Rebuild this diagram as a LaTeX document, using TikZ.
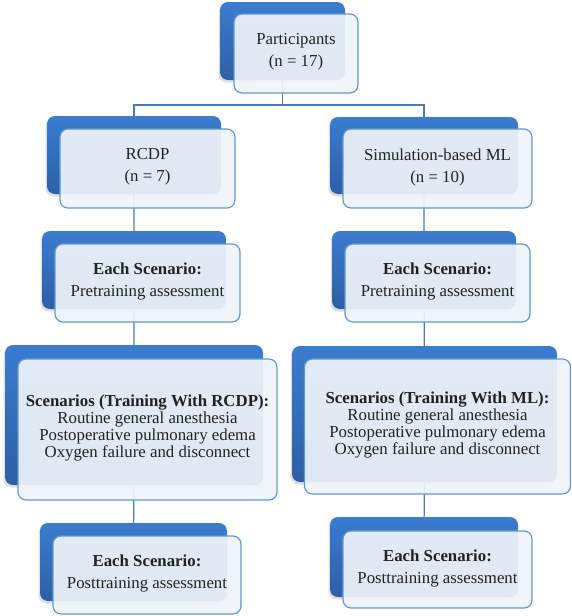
\documentclass[tikz,border=0pt]{standalone}
\usepackage{fontspec}
\setmainfont{Liberation Serif}
\usepackage{tikz}
\usetikzlibrary{shadows}
\usetikzlibrary{backgrounds}
\usetikzlibrary{calc}

\definecolor{boxtop}{HTML}{3B7CCF}
\definecolor{boxbot}{HTML}{2C5FA6}
\definecolor{boxline}{HTML}{5B9BD5}
\definecolor{boxfill}{HTML}{F0F4FA}
\definecolor{linkcol}{HTML}{4A7BBE}
\definecolor{txt}{HTML}{222222}

\begin{document}
\begin{tikzpicture}[x=1pt, y=-1pt,
    back/.style 2 args={rectangle, rounded corners=8pt, top color=boxtop, bottom color=boxbot, draw=none,
        minimum width=#1pt, minimum height=#2pt, inner sep=0pt,
        drop shadow={shadow xshift=-1.5pt, shadow yshift=-2.5pt, opacity=0.25}},
    front/.style 2 args={rectangle, rounded corners=8pt, draw=boxline, line width=1.2pt, fill=boxfill,
        fill opacity=0.92, text opacity=1, text=txt, align=center, inner sep=0pt,
        minimum width=#1pt, minimum height=#2pt, font=\fontsize{16.8}{22}\selectfont},
    link/.style={draw=linkcol, line width=1.2pt}]
        \useasboundingbox (0, 0) rectangle (572, 616);

        \node[back={125}{78}] (partb) at (282.5, 41) {};
        \node[front={124}{79}] (partf) at (296, 53.5) {Participants\\(n = 17)\vspace{3pt}};

        \node[back={174}{78}] (rcdpb) at (134, 155) {};
        \node[front={175}{79}] (rcdpf) at (147.5, 168.5) {RCDP\\(n = 7)\vspace{3pt}};

        \node[back={188}{77}] (simb) at (424, 155.5) {};
        \node[front={189}{79}] (simf) at (437.5, 168.5) {Simulation-based ML\\(n = 10)\vspace{3pt}};

        \node[back={184}{78}] (prelb) at (134, 270) {};
        \node[front={185}{78}] (prelf) at (147.5, 283) {\textbf{Each Scenario:}\\Pretraining assessment\vspace{3pt}};

        \node[back={184}{78}] (prerb) at (424, 270) {};
        \node[front={185}{78}] (prerf) at (437.5, 283) {\textbf{Each Scenario:}\\Pretraining assessment\vspace{3pt}};

        \node[back={258}{140}] (scnlb) at (134, 415) {};
        \node[front={259}{141}, font=\fontsize{16.8}{17}\selectfont] (scnlf) at (147.5, 429.5)
            {\textbf{Scenarios (Training With RCDP):}\\Routine general anesthesia\\Postoperative pulmonary edema\\Oxygen failure and disconnect\vspace{3pt}};

        \node[back={265}{136}] (scnrb) at (424.5, 414) {};
        \node[front={266}{135}, font=\fontsize{16.8}{17}\selectfont] (scnrf) at (437.5, 426.5)
            {\textbf{Scenarios (Training With ML):}\\Routine general anesthesia\\Postoperative pulmonary edema\\Oxygen failure and disconnect\vspace{3pt}};

        \node[back={187}{78}] (postlb) at (133.5, 562) {};
        \node[front={188}{78}] (postlf) at (147, 575) {\textbf{Each Scenario:}\\Posttraining assessment\vspace{3pt}};

        \node[back={188}{80}] (postrb) at (424, 557) {};
        \node[front={189}{77}] (postrf) at (437.5, 569.5) {\textbf{Each Scenario:}\\Posttraining assessment\vspace{3pt}};

        \coordinate (split) at (282.5, 105);

        \begin{scope}[on background layer]
            \draw[link] (partb.center) -- (split) -| (rcdpb.center);
            \draw[link] (split) -| (simb.center);
            \draw[link] (rcdpb.center) -- (prelb.center) -- (scnlb.center) -- (postlb.center);
            \draw[link] (simb.center) -- (prerb.center) -- (scnrb.center) -- (postrb.center);
        \end{scope}
      \end{tikzpicture}
\end{document}
